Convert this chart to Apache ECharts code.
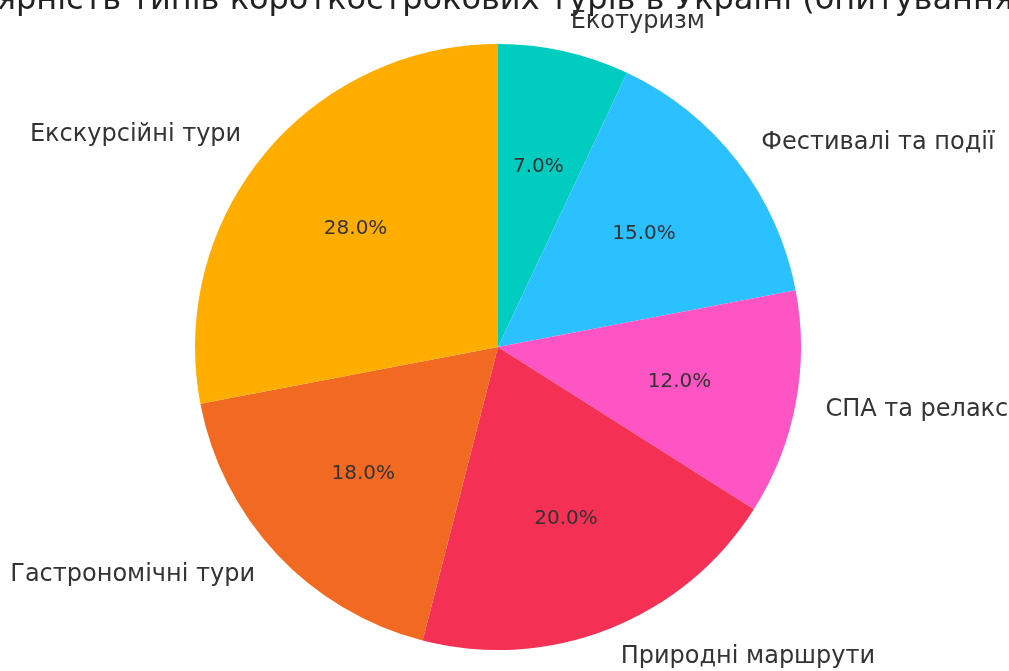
<!DOCTYPE html>
<html>
<head>
<meta charset="utf-8">
<script src="https://cdn.jsdelivr.net/npm/echarts@6/dist/echarts.min.js"></script>
<style>
  html, body { margin: 0; padding: 0; background: #fff; }
  #chart { width: 1009px; height: 671px; }
</style>
</head>
<body>
<div id="chart"></div>
<script>
// дані з опитування
const categories = ["Екотуризм", "Фестивалі та події", "СПА та релакс", "Природні маршрути", "Гастрономічні тури", "Екскурсійні тури"];
const shares = [7, 15, 12, 20, 18, 28];
const colors = ["#00ccc0", "#2bc0ff", "#ff55c4", "#f53055", "#f26a22", "#ffae00"];
const titleText = "Популярність типів короткострокових турів в Україні (опитування 2024)";

const R = 303;
const C = [498, 347];
const font = "DejaVu Sans";

let data = categories.map((name, i) => ({
  name: name,
  value: shares[i],
  itemStyle: { color: colors[i] },
}));

let chart = echarts.init(document.getElementById("chart"));
let option = {
  animation: false,
  graphic: [
    {
      type: "text",
      x: 505,
      y: 17,
      style: {
        text: titleText,
        font: "32px '" + font + "'",
        fill: "#222",
        textAlign: "center",
        textVerticalAlign: "bottom",
      },
    },
  ],
  series: [
    {
      // основний пиріг з підписами категорій
      type: "pie",
      center: C,
      radius: [0, R],
      startAngle: 90,
      clockwise: true,
      avoidLabelOverlap: false,
      data: data,
      label: {
        show: true,
        position: "outside",
        formatter: "{b}",
        fontFamily: font,
        fontSize: 24,
        color: "#333",
        distanceToLabelLine: 0,
      },
      labelLine: { show: false, length: R * 0.1, length2: 0 },
      emphasis: { disabled: true },
    },
    {
      // прозорий пиріг тільки для відсотків на 0.6 радіуса
      type: "pie",
      center: C,
      radius: [0, R * 1.2],
      startAngle: 90,
      clockwise: true,
      silent: true,
      avoidLabelOverlap: false,
      data: categories.map((name, i) => ({ name: name, value: shares[i] })),
      itemStyle: { color: "rgba(0,0,0,0)" },
      label: {
        show: true,
        position: "inner",
        formatter: (p) => p.value.toFixed(1) + "%",
        fontFamily: font,
        fontSize: 20,
        color: "#333",
      },
      labelLine: { show: false },
      emphasis: { disabled: true },
      z: 3,
    },
  ],
};
chart.setOption(option);
</script>
</body>
</html>
